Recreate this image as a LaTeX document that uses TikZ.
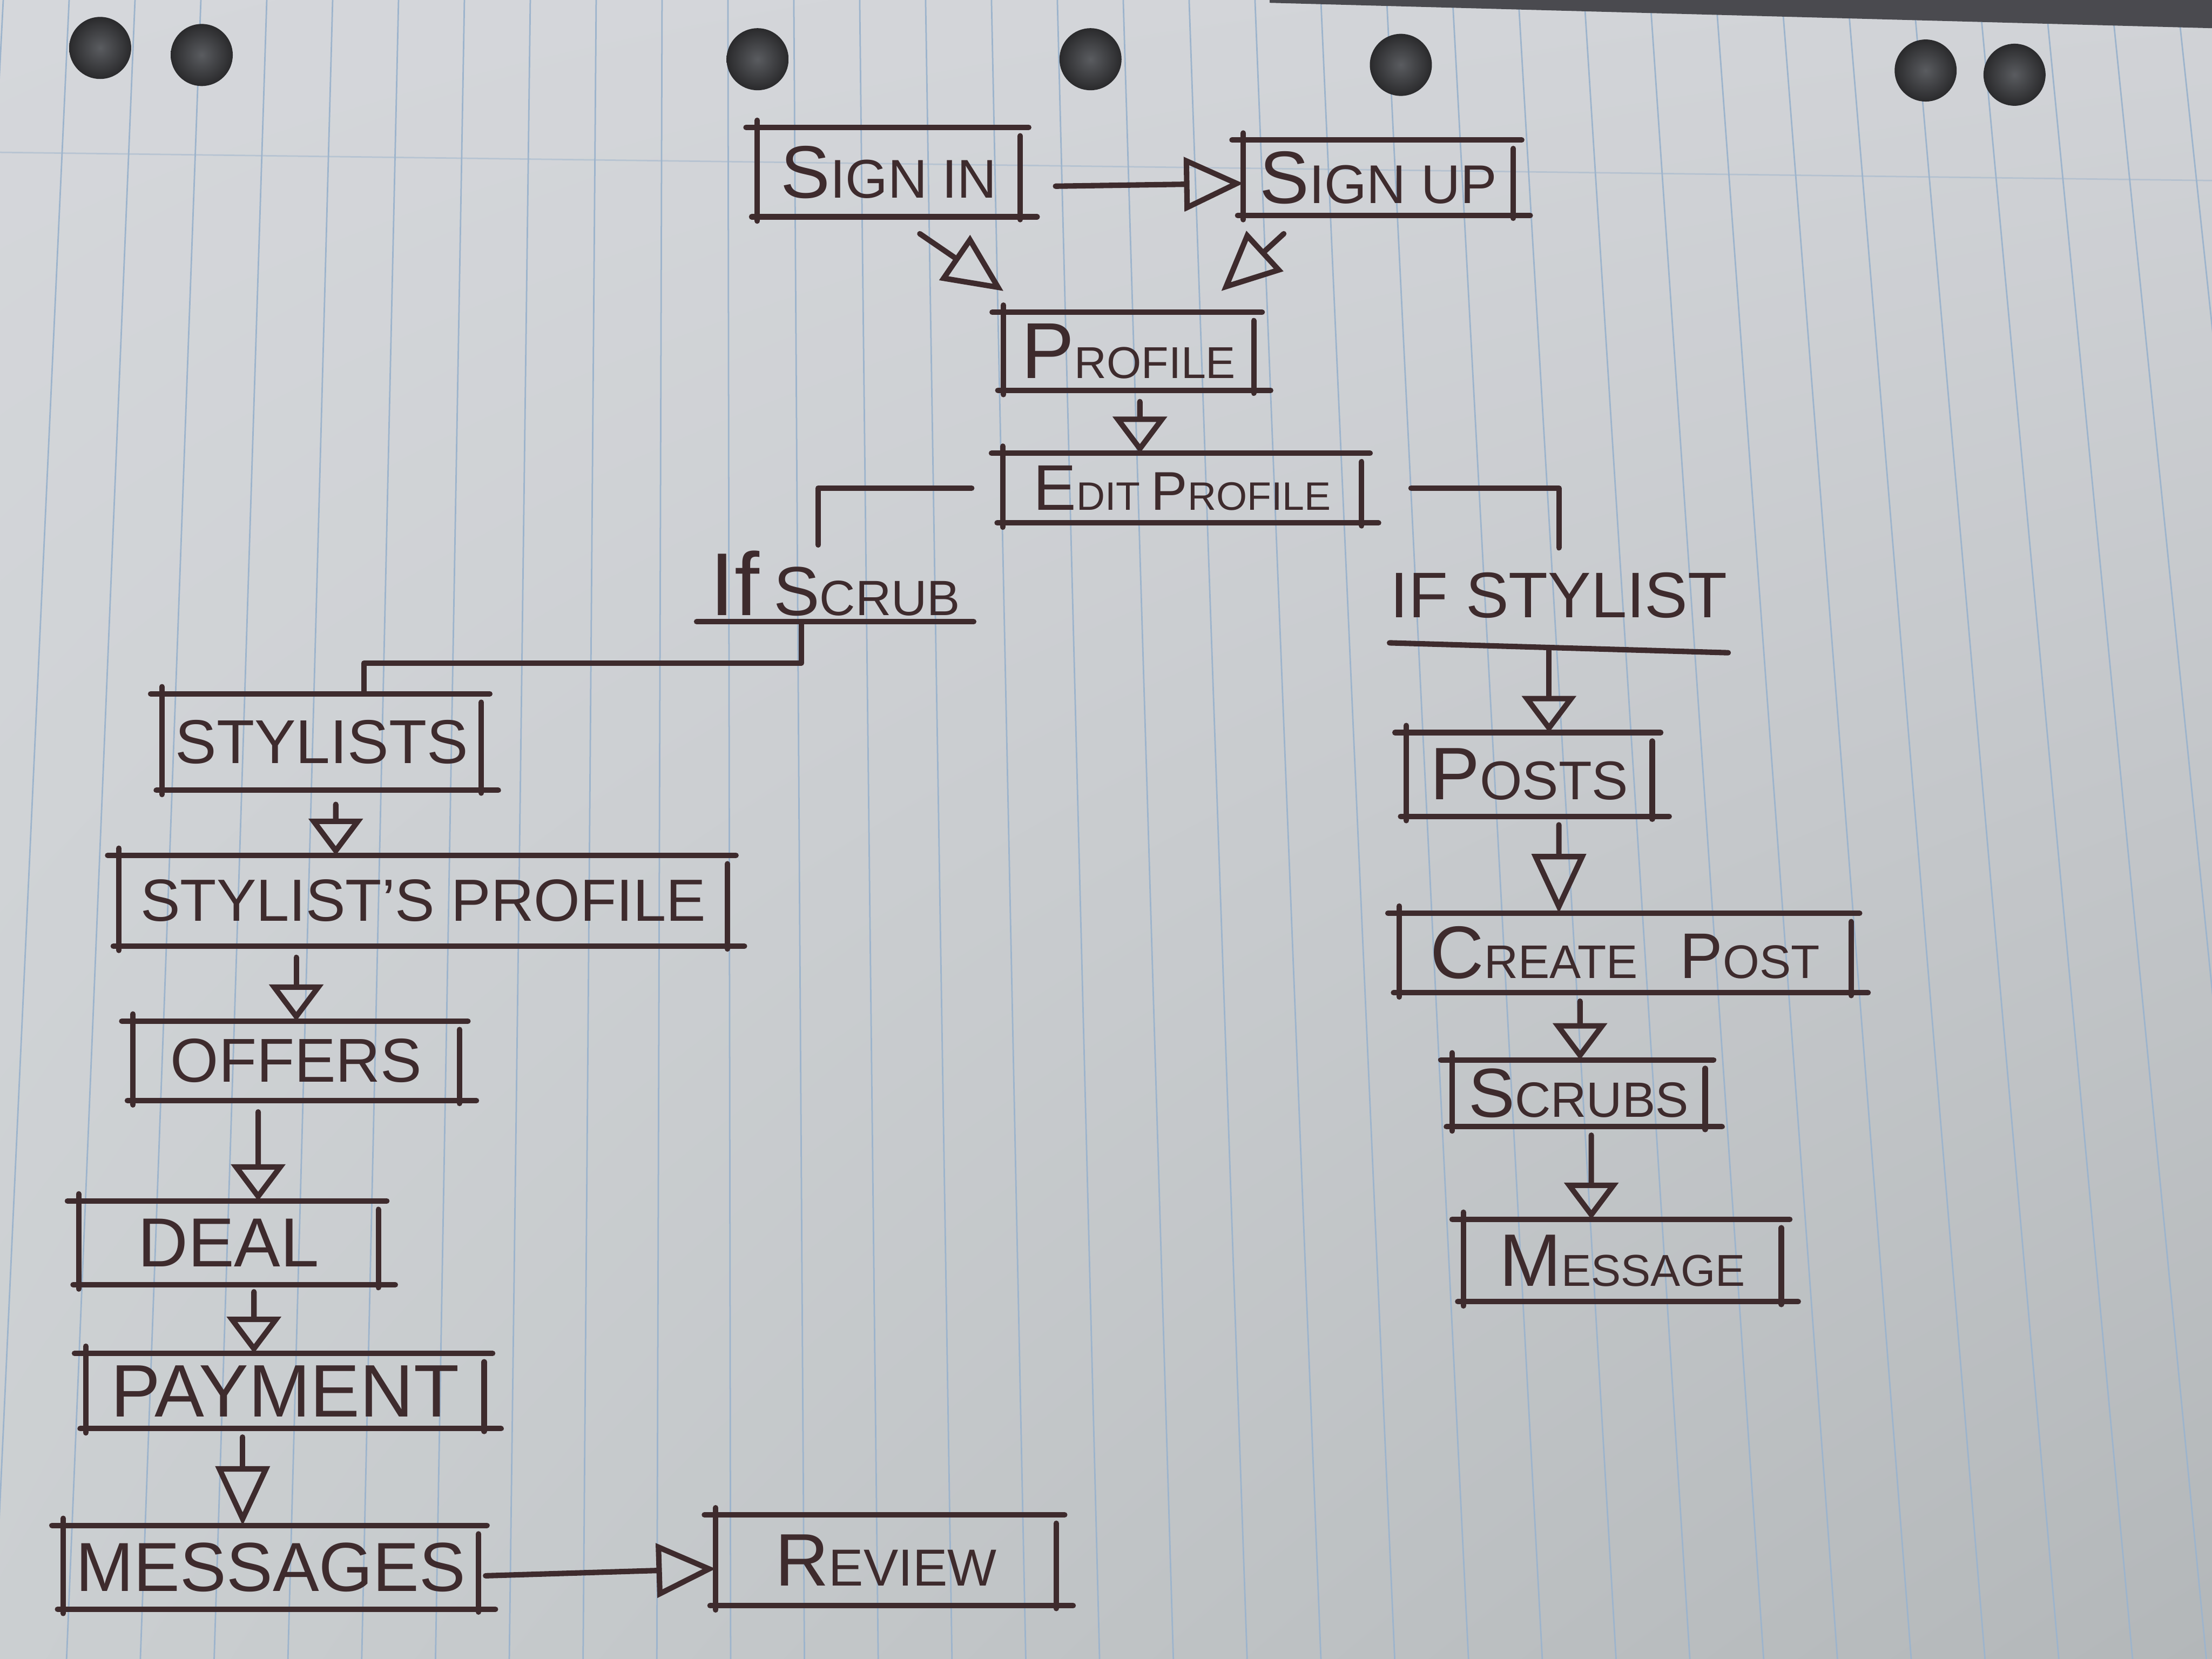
\documentclass[tikz,border=0pt]{standalone}
\usepackage{fontspec}
\setmainfont{Liberation Sans}
\usetikzlibrary{arrows.meta,shadings}
\definecolor{ink}{HTML}{3E2B2D}
\definecolor{pUL}{HTML}{D5D7DB}
\definecolor{pUR}{HTML}{D1D3D7}
\definecolor{pLL}{HTML}{CBCFD1}
\definecolor{pLR}{HTML}{B3B7B9}
\definecolor{rule}{HTML}{9DB4CC}
\definecolor{holec}{HTML}{2A2A2C}
\definecolor{holeh}{HTML}{5A5C60}
\definecolor{shadowc}{HTML}{4A4A4F}
\newcommand\bc[2]{{\fontsize{#1}{#1}\selectfont #2}}
\begin{document}
\begin{tikzpicture}[
  inkline/.style={draw=ink, line width=1.1pt, line cap=round, line join=round},
  box/.style={inner sep=0pt, text=ink, align=center, append after command={
     ([xshift=-0.8mm]\tikzlastnode.north west) edge[inkline] ([xshift=0.6mm]\tikzlastnode.north east)
     ([xshift=-0.4mm]\tikzlastnode.south west) edge[inkline] ([xshift=1.2mm]\tikzlastnode.south east)
     ([yshift=0.5mm]\tikzlastnode.north west) edge[inkline] ([yshift=-0.3mm]\tikzlastnode.south west)
     ([yshift=-0.6mm]\tikzlastnode.north east) edge[inkline] ([yshift=-0.2mm]\tikzlastnode.south east)}},
  lbl/.style={inner sep=0pt, text=ink},
  arr/.style={inkline, -{Triangle[open, length=2.6mm, width=3.8mm]}},
  bigarr/.style={inkline, -{Triangle[open, length=4.2mm, width=3.8mm]}},
  paperline/.style={draw=rule, line width=0.3pt},
  hole/.style={inner color=holeh, outer color=holec}
]
\useasboundingbox (0,0) rectangle (15.68,-11.76);
% paper
\begin{scope}
\clip (0,0) rectangle (15.68,-11.76);
\shade[upper left=pUL, upper right=pUR, lower left=pLL, lower right=pLR] (0,0) rectangle (15.68,-11.76);
\foreach \i in {-3,...,34}{
  \pgfmathsetmacro\xt{0.49+0.467*\i}
  \pgfmathsetmacro\xb{5.0+(\xt-5.0)*1.12}
  \draw[paperline] (\xt,0) -- (\xb,-11.76);
}
\draw[paperline, opacity=0.5] (0,-1.08) -- (15.68,-1.28);
\fill[shadowc] (9.0,0) -- (15.68,0) -- (15.68,-0.20) -- (9.0,-0.02) -- cycle;
\foreach \x/\y in {0.71/0.34, 1.43/0.39, 5.37/0.42, 7.73/0.42, 9.93/0.46, 13.65/0.50, 14.28/0.53}
  \shade[hole] (\x,-\y) circle (0.22);
\end{scope}

% nodes
\node[box, minimum width=1.85cm, minimum height=0.62cm, font=\fontsize{11}{12}\selectfont] (signin) at (6.30,-1.22) {\bc{15}{S}IGN IN};
\node[box, minimum width=1.90cm, minimum height=0.52cm, font=\fontsize{11}{12}\selectfont] (signup) at (9.77,-1.26) {\bc{15}{S}IGN UP};
\node[box, minimum width=1.76cm, minimum height=0.54cm, font=\fontsize{9}{10}\selectfont] (profile) at (8.00,-2.49) {\bc{16}{P}ROFILE};
\node[box, minimum width=2.53cm, minimum height=0.48cm, font=\fontsize{8}{9}\selectfont] (edit) at (8.38,-3.46) {\bc{13}{E}DIT \bc{11}{P}ROFILE};
\node[lbl, minimum width=1.95cm, minimum height=0.53cm, font=\fontsize{10}{11}\selectfont] (ifscrub) at (5.92,-4.135) {\bc{18}{If} \bc{14}{S}CRUB};
\node[lbl, minimum width=2.25cm, minimum height=0.66cm, font=\fontsize{13}{14}\selectfont] (ifstylist) at (11.05,-4.22) {IF STYLIST};

\node[box, minimum width=2.25cm, minimum height=0.67cm, font=\fontsize{12.5}{13}\selectfont] (stylists) at (2.28,-5.26) {STYLISTS};
\node[box, minimum width=4.30cm, minimum height=0.63cm, font=\fontsize{12}{13}\selectfont] (sprof) at (3.00,-6.385) {STYLIST'S PROFILE};
\node[box, minimum width=2.30cm, minimum height=0.55cm, font=\fontsize{12.5}{13}\selectfont] (offers) at (2.10,-7.52) {OFFERS};
\node[box, minimum width=2.11cm, minimum height=0.58cm, font=\fontsize{14}{15}\selectfont] (deal) at (1.62,-8.81) {DEAL};
\node[box, minimum width=2.81cm, minimum height=0.52cm, font=\fontsize{15}{16}\selectfont] (payment) at (2.02,-9.86) {PAYMENT};
\node[box, minimum width=2.93cm, minimum height=0.58cm, font=\fontsize{14}{15}\selectfont] (messages) at (1.92,-11.11) {MESSAGES};
\node[box, minimum width=2.40cm, minimum height=0.63cm, font=\fontsize{10.5}{11}\selectfont] (review) at (6.28,-11.06) {\bc{15}{R}EVIEW};

\node[box, minimum width=1.73cm, minimum height=0.58cm, font=\fontsize{11}{12}\selectfont] (posts) at (10.84,-5.49) {\bc{15}{P}OSTS};
\node[box, minimum width=3.19cm, minimum height=0.55cm, font=\fontsize{9.5}{10}\selectfont] (create) at (11.52,-6.755) {\bc{15}{C}REATE\hspace{0.3cm}\bc{13}{P}OST};
\node[box, minimum width=1.78cm, minimum height=0.46cm, font=\fontsize{10}{11}\selectfont] (scrubs) at (11.19,-7.75) {\bc{14}{S}CRUBS};
\node[box, minimum width=2.24cm, minimum height=0.57cm, font=\fontsize{9}{10}\selectfont] (message) at (11.50,-8.935) {\bc{15}{M}ESSAGE};

% underlines of the conditions
\draw[inkline] (ifscrub.south west) -- (ifscrub.south east);
\draw[inkline] (ifstylist.south west) -- ([yshift=-0.07cm]ifstylist.south east);

% top connectors
\draw[bigarr] ([xshift=0.25cm,yshift=-0.10cm]signin.east) -- ([yshift=-0.04cm]signup.west);
\draw[bigarr] ([xshift=0.22cm,yshift=-0.12cm]signin.south) -- ([yshift=0.15cm]profile.north west);
\draw[bigarr] ([xshift=-0.67cm,yshift=-0.13cm]signup.south) -- ([xshift=-0.23cm,yshift=0.15cm]profile.north east);
\draw[arr] ([xshift=0.08cm,yshift=-0.08cm]profile.south) -- ([xshift=-0.30cm]edit.north);

% branches
\draw[inkline] ([xshift=-0.22cm]edit.west) -| ([xshift=-0.12cm]ifscrub.north);
\draw[inkline] ([xshift=0.35cm]edit.east) -| (ifstylist.north);
\coordinate (jL) at (2.58,-4.70);
\draw[inkline] ([xshift=-0.24cm]ifscrub.south) |- (jL) -- (jL |- stylists.north);

% left column
\draw[arr] ([xshift=0.10cm,yshift=-0.10cm]stylists.south) -- ([xshift=-0.62cm]sprof.north);
\draw[arr] ([xshift=-0.90cm,yshift=-0.08cm]sprof.south) -- (offers.north);
\draw[arr] ([xshift=-0.27cm,yshift=-0.08cm]offers.south) -- ([xshift=0.21cm]deal.north);
\draw[arr] ([xshift=0.18cm,yshift=-0.05cm]deal.south) -- ([xshift=-0.22cm]payment.north);
\draw[bigarr] ([xshift=-0.30cm,yshift=-0.06cm]payment.south) -- ([xshift=-0.20cm]messages.north);
\draw[bigarr] ([xshift=0.05cm,yshift=-0.06cm]messages.east) -- ([yshift=-0.06cm]review.west);

% right column
\draw[arr] ([xshift=-0.07cm,yshift=-0.05cm]ifstylist.south) -- ([xshift=0.14cm]posts.north);
\draw[bigarr] ([xshift=0.21cm,yshift=-0.06cm]posts.south) -- ([xshift=-0.47cm]create.north);
\draw[arr] ([xshift=-0.32cm,yshift=-0.06cm]create.south) -- ([xshift=0.01cm]scrubs.north);
\draw[arr] ([xshift=0.09cm,yshift=-0.06cm]scrubs.south) -- ([xshift=-0.22cm]message.north);
\end{tikzpicture}
\end{document}
